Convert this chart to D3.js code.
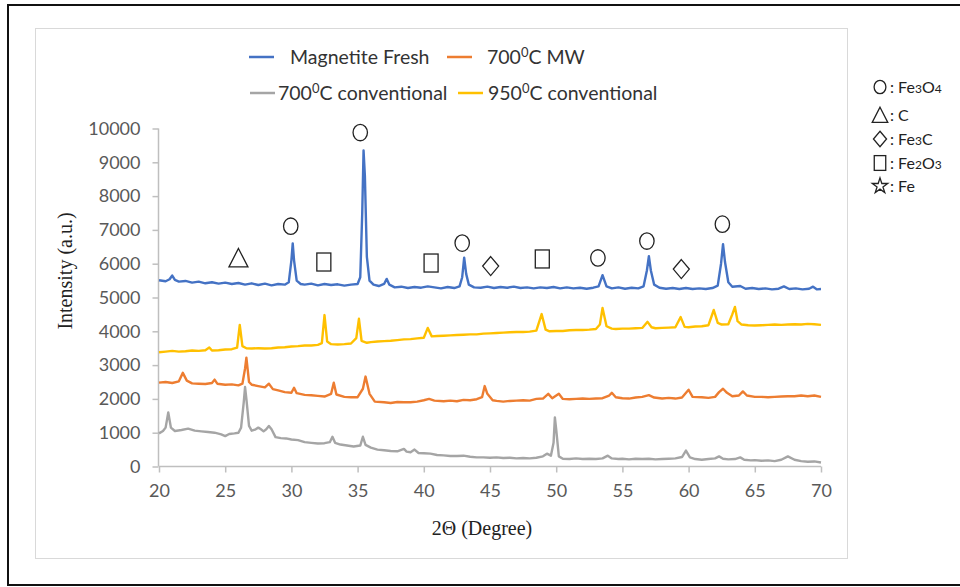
<!DOCTYPE html>
<html><head><meta charset="utf-8">
<script src="https://cdn.jsdelivr.net/npm/d3@7"></script>
<style>html,body{margin:0;padding:0;background:#fff}svg{display:block}</style>
</head><body><svg id="c" width="960" height="587"></svg>
<script>
// ---------------- DATA ----------------
const seriesNames = ["Magnetite Fresh", "700⁰C MW", "700⁰C conventional", "950⁰C conventional"];
const xTicks = [20,25,30,35,40,45,50,55,60,65,70];
const yTicks = [0,1000,2000,3000,4000,5000,6000,7000,8000,9000,10000];

// [2θ, intensity]
const magnetiteFresh = [
[20,5510],[20.5,5480],[20.8,5540],[21,5650],[21.2,5520],[21.5,5470],[22,5490],[22.5,5440],[23,5470],[23.5,5420],
[24,5450],[24.5,5410],[25,5440],[25.5,5400],[26,5430],[26.5,5380],[27,5420],[27.5,5370],[28,5410],[28.5,5360],
[29,5400],[29.5,5380],[29.8,5450],[30,6100],[30.1,6600],[30.2,6100],[30.4,5500],[30.7,5400],[31,5380],[31.5,5410],
[32,5360],[32.5,5400],[33,5370],[33.5,5390],[34,5350],[34.5,5380],[35,5400],[35.2,5600],[35.35,7500],[35.45,9350],
[35.55,8600],[35.7,6200],[35.9,5500],[36.2,5380],[36.6,5340],[37,5400],[37.2,5550],[37.4,5380],[37.8,5300],[38.3,5320],
[38.8,5280],[39.3,5310],[39.8,5290],[40.3,5330],[40.8,5300],[41.3,5270],[41.8,5310],[42.3,5280],[42.7,5330],[42.9,5600],
[43.05,6180],[43.2,5700],[43.4,5380],[43.8,5300],[44.3,5290],[44.8,5320],[45.3,5280],[45.8,5310],[46.3,5290],[46.8,5320],
[47.3,5280],[47.8,5300],[48.3,5270],[48.8,5300],[49.3,5280],[49.8,5310],[50.3,5270],[50.8,5300],[51.3,5270],[51.8,5290],
[52.3,5260],[52.8,5290],[53.2,5330],[53.5,5660],[53.8,5330],[54.2,5270],[54.7,5300],[55.2,5260],[55.7,5290],[56.2,5270],
[56.6,5330],[56.85,5800],[57,6220],[57.15,5800],[57.4,5380],[57.8,5290],[58.3,5260],[58.8,5280],[59.3,5250],[59.8,5280],
[60.3,5250],[60.8,5270],[61.3,5250],[61.8,5280],[62.2,5350],[62.45,6000],[62.6,6580],[62.75,6050],[63,5450],[63.3,5320],
[63.9,5340],[64.3,5260],[64.8,5280],[65.3,5250],[65.8,5270],[66.3,5240],[66.8,5260],[67.2,5330],[67.6,5250],[68.1,5270],
[68.6,5240],[69.1,5260],[69.4,5320],[69.7,5240],[70,5250]];

const mw700 = [
[20,2480],[20.5,2500],[21,2470],[21.5,2520],[21.8,2770],[22.1,2540],[22.5,2460],[23,2450],[23.5,2440],[24,2470],
[24.2,2570],[24.4,2450],[25,2420],[25.5,2430],[26,2400],[26.3,2450],[26.5,2900],[26.6,3220],[26.8,2500],[27,2420],
[27.5,2380],[28,2340],[28.3,2450],[28.6,2290],[29,2250],[29.5,2200],[30,2180],[30.2,2330],[30.4,2170],[31,2120],
[31.5,2110],[32,2090],[32.5,2070],[33,2150],[33.2,2480],[33.4,2130],[34,2060],[34.5,2050],[35,2050],[35.4,2300],
[35.6,2660],[35.9,2150],[36.3,1920],[37,1900],[37.5,1880],[38,1910],[38.5,1900],[39,1900],[39.5,1920],[40,1960],
[40.4,2000],[40.8,1950],[41.5,1930],[42,1950],[42.5,1930],[43,1970],[43.5,1960],[44,1990],[44.4,2050],[44.6,2380],
[44.8,2150],[45.2,1960],[45.5,1940],[46,1920],[46.5,1940],[47,1950],[47.5,1960],[48,1950],[48.5,2000],[49,2010],
[49.4,2150],[49.7,2020],[50.2,2150],[50.5,2000],[51,1990],[51.5,2000],[52,2010],[52.5,2000],[53,2010],[53.5,2020],
[54,2100],[54.2,2180],[54.5,2050],[55,2020],[55.5,2010],[56,2040],[56.5,2060],[57,2110],[57.4,2040],[58,2010],
[58.5,2030],[59,2010],[59.5,2040],[60,2270],[60.3,2060],[61,2050],[61.5,2030],[62,2060],[62.3,2200],[62.6,2300],
[62.9,2180],[63.3,2080],[63.8,2100],[64.1,2220],[64.4,2100],[65,2060],[65.5,2060],[66,2050],[66.5,2060],[67,2070],
[67.5,2080],[68,2080],[68.5,2100],[69,2080],[69.5,2100],[70,2060]];

const conv700 = [
[20,980],[20.3,1050],[20.5,1150],[20.7,1600],[20.9,1150],[21.2,1050],[21.7,1080],[22.2,1120],[22.7,1060],[23.2,1040],
[23.7,1020],[24.2,1000],[24.7,950],[25,900],[25.3,960],[25.7,980],[26,1000],[26.2,1150],[26.4,1900],[26.5,2350],
[26.6,2000],[26.8,1200],[27,1060],[27.3,1100],[27.5,1150],[27.7,1100],[27.9,1040],[28.1,1100],[28.3,1200],[28.5,1100],
[28.8,870],[29.2,840],[29.6,830],[30,800],[30.5,780],[31,720],[31.5,700],[32,680],[32.5,690],[32.9,720],
[33.1,880],[33.3,700],[33.7,650],[34.2,620],[34.7,590],[35.2,620],[35.4,880],[35.6,640],[36,560],[36.5,500],
[37,480],[37.5,460],[38,450],[38.5,520],[38.7,440],[39,420],[39.3,500],[39.6,400],[40,390],[40.5,380],
[41,340],[41.5,330],[42,310],[42.5,310],[43,320],[43.5,290],[44,270],[44.5,270],[45,260],[45.5,270],
[46,250],[46.5,260],[47,240],[47.5,250],[48,240],[48.5,260],[49,300],[49.3,380],[49.6,320],[49.8,700],
[49.9,1450],[50,1100],[50.2,300],[50.5,230],[51,220],[51.5,240],[52,220],[52.5,230],[53,220],[53.5,240],
[53.9,320],[54.2,240],[54.7,220],[55,230],[55.5,210],[56,230],[56.5,220],[57,230],[57.5,210],[58,220],
[58.5,230],[59,240],[59.5,280],[59.8,470],[60.1,270],[60.5,220],[61,200],[61.5,220],[62,240],[62.3,300],
[62.6,230],[63,210],[63.5,220],[63.9,270],[64.2,200],[64.7,180],[65,190],[65.5,170],[66,180],[66.5,160],
[67,200],[67.5,300],[68,200],[68.5,160],[69,140],[69.5,150],[70,120]];

const conv950 = [
[20,3380],[20.5,3400],[21,3420],[21.5,3400],[22,3410],[22.5,3430],[23,3420],[23.5,3440],[23.8,3520],[24,3430],
[24.5,3440],[25,3460],[25.5,3470],[25.9,3520],[26.1,4190],[26.3,3560],[26.6,3500],[27,3490],[27.5,3500],[28,3490],
[28.5,3500],[29,3520],[29.5,3530],[30,3550],[30.5,3560],[31,3580],[31.5,3580],[32,3600],[32.3,3650],[32.5,4480],
[32.7,3700],[33,3620],[33.5,3610],[34,3620],[34.5,3640],[34.9,3800],[35.1,4370],[35.3,3720],[35.7,3660],[36,3680],
[36.5,3700],[37,3710],[37.5,3720],[38,3740],[38.5,3760],[39,3770],[39.5,3790],[40,3810],[40.3,4100],[40.6,3850],
[41,3860],[41.5,3870],[42,3880],[42.5,3890],[43,3900],[43.5,3910],[44,3910],[44.5,3930],[45,3940],[45.5,3950],
[46,3960],[46.5,3970],[47,3980],[47.5,3980],[48,3990],[48.5,4020],[48.9,4510],[49.2,4050],[49.5,4000],[50,4010],
[50.5,4010],[51,4030],[51.5,4040],[52,4040],[52.5,4050],[53,4070],[53.3,4200],[53.5,4690],[53.8,4150],[54.2,4080],
[54.5,4070],[55,4080],[55.5,4080],[56,4090],[56.5,4100],[56.9,4280],[57.2,4120],[57.5,4090],[58,4100],[58.5,4110],
[59,4120],[59.4,4420],[59.7,4130],[60,4120],[60.5,4140],[61,4150],[61.5,4180],[61.9,4630],[62.2,4250],[62.5,4200],
[63,4210],[63.3,4500],[63.5,4720],[63.7,4300],[64,4200],[64.5,4180],[65,4170],[65.5,4180],[66,4190],[66.5,4200],
[67,4190],[67.5,4200],[68,4210],[68.5,4200],[69,4220],[69.5,4210],[70,4190]];

// phase markers: [type, 2θ, intensity]
const phaseMarkers = [
["circle",35.2,9880],["circle",29.95,7110],["circle",42.9,6610],["circle",53.15,6170],["circle",56.85,6670],["circle",62.55,7170],
["triangle",26.0,6170],["square",32.45,6050],["square",40.55,6020],["square",48.95,6140],["diamond",45.05,5930],["diamond",59.45,5840]];
const phaseLegend = [["circle","Fe","3","O","4"],["triangle","C"],["diamond","Fe","3","C"],["square","Fe","2","O","3"],["star","Fe"]];

const colors = ["#4472C4","#ED7D31","#A5A5A5","#FFC000"];
const allSeries = [magnetiteFresh, mw700, conv700, conv950];

// ---------------- CHART ----------------
const svg = d3.select("#c");
const x = d3.scaleLinear().domain([20,70]).range([159,821]);
const y = d3.scaleLinear().domain([0,10000]).range([466.5,128.5]);

// frames
svg.append("path").attr("d","M960,5 H8 V585 H960").attr("fill","none").attr("stroke","#111").attr("stroke-width",2);
svg.append("rect").attr("x",35.5).attr("y",28.5).attr("width",812).attr("height",530)
  .attr("fill","none").attr("stroke","#d9d9d9").attr("stroke-width",1);

const tickFont = "Lato, 'Open Sans', sans-serif";
// axes
const yAxis = svg.append("g").attr("transform","translate(158.5,0)")
  .call(d3.axisLeft(y).tickValues(yTicks).tickSize(6).tickPadding(12).tickFormat(d3.format("d")));
const xAxis = svg.append("g").attr("transform","translate(0,466.5)")
  .call(d3.axisBottom(x).tickValues(xTicks).tickSize(6).tickPadding(12));
[yAxis,xAxis].forEach(a=>{
  a.selectAll(".domain").attr("stroke","#bfbfbf").attr("stroke-width",1.5);
  a.selectAll(".tick line").attr("stroke","#bfbfbf").attr("stroke-width",1.5);
  a.selectAll("text").attr("fill","#595959").style("font-family",tickFont).style("font-size","18px");
});
yAxis.select(".domain").attr("d","M-0,466.5V128.5");
xAxis.select(".domain").attr("d","M159,0H821");

// titles
svg.append("text").attr("transform","translate(72,271) rotate(-90)").attr("text-anchor","middle")
  .style("font-family","'Liberation Serif', serif").style("font-size","20px").attr("fill","#222").text("Intensity (a.u.)");
svg.append("text").attr("x",482).attr("y",535).attr("text-anchor","middle")
  .style("font-family","'Liberation Serif', serif").style("font-size","20px").attr("fill","#222").text("2Θ (Degree)");

// lines
const line = d3.line().x(d=>x(d[0])).y(d=>y(d[1]));
allSeries.forEach((s,i)=>{
  svg.append("path").datum(s).attr("d",line).attr("fill","none").attr("stroke",colors[i])
    .attr("stroke-width",2.4).attr("stroke-linejoin","round");
});

// shapes
function shape(g, type, cx, cy, k){
  const st = {fill:"none", stroke:"#222", "stroke-width":1.3};
  let el;
  if(type==="circle") el = g.append("ellipse").attr("cx",cx).attr("cy",cy).attr("rx",7.2*k).attr("ry",8.2*k);
  else if(type==="square") el = g.append("rect").attr("x",cx-7*k).attr("y",cy-9*k).attr("width",14*k).attr("height",18*k);
  else if(type==="triangle") el = g.append("path").attr("d",`M${cx},${cy-9.5*k}L${cx+9.5*k},${cy+9*k}L${cx-9.5*k},${cy+9*k}Z`);
  else if(type==="diamond") el = g.append("path").attr("d",`M${cx},${cy-9.5*k}L${cx+8*k},${cy}L${cx},${cy+9.5*k}L${cx-8*k},${cy}Z`);
  else if(type==="star") el = g.append("path").attr("transform",`translate(${cx},${cy})`).attr("d",d3.symbol(d3.symbolStar, 110*k*k)());
  Object.entries(st).forEach(([a,v])=>el.attr(a,v));
}
const mg = svg.append("g");
phaseMarkers.forEach(m=>shape(mg, m[0], x(m[1]), y(m[2]), 1));

// phase legend
const pl = svg.append("g");
const plY = [87,115,139,163,186];
phaseLegend.forEach((p,i)=>{
  shape(pl, p[0], 880, plY[i], 0.82);
  const t = pl.append("text").attr("x",890).attr("y",plY[i]+5.5).attr("fill","#222")
    .style("font-family","Lato, sans-serif").style("font-size","16px");
  t.append("tspan").text(": "+p[1]);
  for(let j=2;j<p.length;j++){
    const sub = j%2===0;
    t.append("tspan").style("font-size", sub?"12px":"16px").text(p[j]);
  }
});

// series legend
const legItems = [
  {i:0, lx:249, ly:57, tx:290},
  {i:1, lx:447, ly:57, tx:487},
  {i:2, lx:250, ly:93, tx:278},
  {i:3, lx:458, ly:93, tx:488}];
const lg = svg.append("g");
legItems.forEach(it=>{
  lg.append("line").attr("x1",it.lx).attr("x2",it.lx+25).attr("y1",it.ly).attr("y2",it.ly)
    .attr("stroke",colors[it.i]).attr("stroke-width",2.5);
  const t = lg.append("text").attr("x",it.tx).attr("y",it.ly+7).attr("fill","#333")
    .style("font-family","Lato, sans-serif").style("font-size","19.5px");
  const name = seriesNames[it.i];
  if(name.includes("⁰")){
    const [a,b] = name.split("⁰");
    t.append("tspan").text(a);
    t.append("tspan").attr("dy",-7).style("font-size","13px").text("0");
    t.append("tspan").attr("dy",7).text(b);
  } else t.text(name);
});
</script></body></html>
